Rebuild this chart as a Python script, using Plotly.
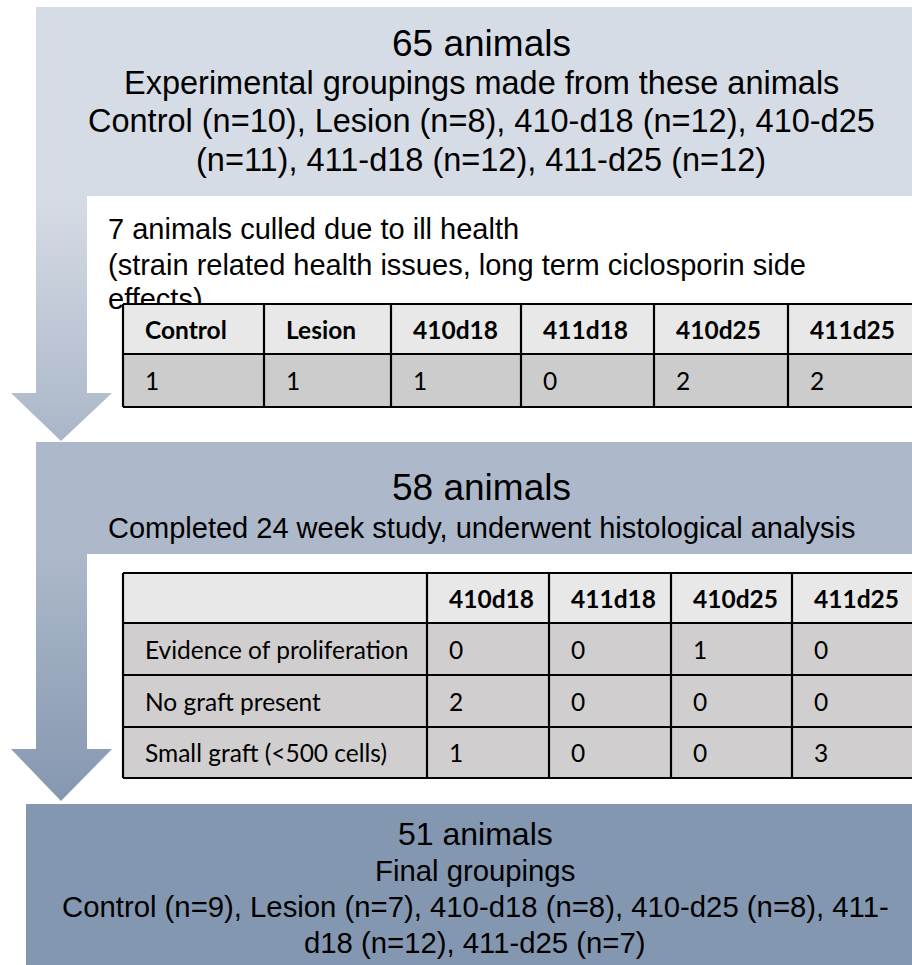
import plotly.graph_objects as go

# ---------------- data ----------------
title_1 = "65 animals"
lines_1 = ["Experimental groupings made from these animals",
           "Control (n=10), Lesion (n=8), 410-d18 (n=12), 410-d25",
           "(n=11), 411-d18 (n=12), 411-d25 (n=12)"]
cull_lines = ["7 animals culled due to ill health",
              "(strain related health issues, long term ciclosporin side",
              "effects)"]
culled_groups = ["Control", "Lesion", "410d18", "411d18", "410d25", "411d25"]
culled_counts = [1, 1, 1, 0, 2, 2]

title_2 = "58 animals"
lines_2 = ["Completed 24 week study, underwent histological analysis"]
histo_groups = ["410d18", "411d18", "410d25", "411d25"]
histo_rows = ["Evidence of proliferation", "No graft present", "Small graft (<500 cells)"]
proliferation = [0, 0, 1, 0]
no_graft = [2, 0, 0, 0]
small_graft = [1, 0, 0, 3]
histo_values = [proliferation, no_graft, small_graft]

title_3 = "51 animals"
lines_3 = ["Final groupings",
           "Control (n=9), Lesion (n=7), 410-d18 (n=8), 410-d25 (n=8), 411-",
           "d18 (n=12), 411-d25 (n=7)"]

# ---------------- layout constants ----------------
W, H = 912, 965
C1, C2, C3 = "#D6DCE5", "#ADB9CA", "#8497B0"
SANS = "Liberation Sans, Arial, sans-serif"
TBL = "Lato, Carlito, Calibri, sans-serif"
TXT = "#000000"

t1_cols = [123, 264, 391, 521, 654, 788, 940]
t1_rows = [304, 354, 407]
t2_cols = [123, 427, 549, 671, 792, 940]
t2_rows = [573, 623, 675, 727, 778]

fig = go.Figure()
shapes = []
annotations = []

def rect(x0, y0, x1, y1, color, layer="below"):
    shapes.append(dict(type="rect", xref="x", yref="y", x0=x0, y0=y0, x1=x1, y1=y1,
                       fillcolor=color, line=dict(width=0), layer=layer))

def text(x, y, s, size, family=SANS, anchor="center", bold=False):
    annotations.append(dict(x=x, y=y, xref="x", yref="y", text=("<b>%s</b>" % s) if bold else s,
                            showarrow=False, xanchor=anchor, yanchor="middle",
                            font=dict(family=family, size=size, color=TXT)))

# boxes
rect(36, 7, 940, 196, C1)
rect(36, 442, 940, 554, C2)
rect(26, 804, 940, 970, C3)

# gradient arrows
def arrow(ytop, yhead, ytip, ca, cb):
    xs = [36, 87, 87, 112, 61, 11, 36, 36]
    ys = [ytop, ytop, yhead, yhead, ytip, yhead, yhead, ytop]
    fig.add_trace(go.Scatter(x=xs, y=ys, mode="lines", line=dict(width=0),
                             fill="toself", fillcolor=ca,
                             fillgradient=dict(type="vertical", start=ytop, stop=ytip,
                                               colorscale=[[0, ca], [1, cb]]),
                             hoverinfo="skip", showlegend=False))

arrow(195, 393, 441, C1, "#AAB6C8")
arrow(553, 749, 801, C2, "#8597B0")

# box texts
cx1 = 481
text(cx1, 43, title_1, 37)
for yy, s in zip([83, 121, 160], lines_1):
    text(cx1, yy, s, 32.5)

text(481, 487, title_2, 37)
text(481, 528, lines_2[0], 29)

cx3 = 475
text(cx3, 834, title_3, 32)
for yy, s in zip([870, 906, 942], lines_3):
    text(cx3, yy, s, 29.3)

# culled paragraph (as trace so that the table covers the last line)
fig.add_trace(go.Scatter(x=[108, 108, 108], y=[232, 268, 302], mode="text",
                         text=cull_lines, textposition="middle right",
                         textfont=dict(family=SANS, size=29, color=TXT),
                         hoverinfo="skip", showlegend=False))

# table drawing helper
def grid(cols, rows, fills):
    for i in range(len(rows) - 1):
        rect(cols[0], rows[i], cols[-1], rows[i + 1], fills[i], layer="above")
    for y in rows:
        shapes.append(dict(type="line", xref="x", yref="y", x0=cols[0], x1=cols[-1], y0=y, y1=y,
                           line=dict(color="#000000", width=2.2), layer="above"))
    for x in cols:
        shapes.append(dict(type="line", xref="x", yref="y", x0=x, x1=x, y0=rows[0], y1=rows[-1],
                           line=dict(color="#000000", width=2.2), layer="above"))

FS = 24.5
# table 1
grid(t1_cols, t1_rows, ["#E8E8E8", "#CCCCCC"])
for j, (g, v) in enumerate(zip(culled_groups, culled_counts)):
    x = t1_cols[j] + 20
    text(x, (t1_rows[0] + t1_rows[1]) / 2, g, FS, TBL, "left", bold=True)
    text(x, (t1_rows[1] + t1_rows[2]) / 2, str(v), FS, TBL, "left")

# table 2
grid(t2_cols, t2_rows, ["#E8E8E8", "#D0CECE", "#D0CECE", "#D0CECE"])
for j, g in enumerate(histo_groups):
    text(t2_cols[j + 1] + 20, (t2_rows[0] + t2_rows[1]) / 2, g, FS, TBL, "left", bold=True)
for i, (lab, vals) in enumerate(zip(histo_rows, histo_values)):
    yc = (t2_rows[i + 1] + t2_rows[i + 2]) / 2
    text(t2_cols[0] + 20, yc, lab, FS, TBL, "left")
    for j, v in enumerate(vals):
        text(t2_cols[j + 1] + 20, yc, str(v), FS, TBL, "left")

fig.update_layout(
    width=W, height=H, margin=dict(l=0, r=0, t=0, b=0),
    paper_bgcolor="white", plot_bgcolor="white",
    xaxis=dict(range=[0, W], visible=False, fixedrange=True),
    yaxis=dict(range=[H, 0], visible=False, fixedrange=True),
    shapes=shapes, annotations=annotations, showlegend=False,
)
fig.write_html("out.html", config={"displayModeBar": False},
               post_script="document.body.style.margin='0px';document.body.style.overflow='hidden';")
